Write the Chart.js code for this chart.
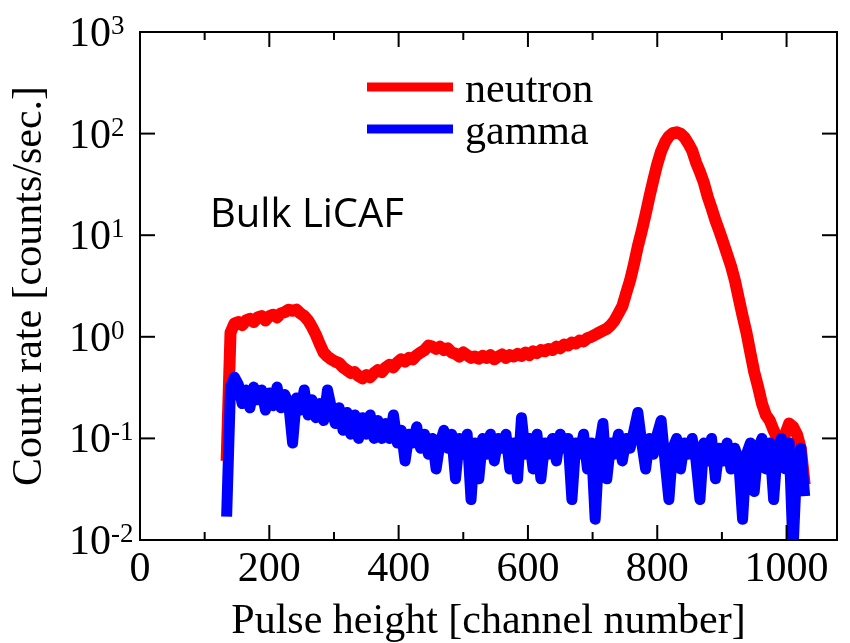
<!DOCTYPE html>
<html>
<head>
<meta charset="utf-8">
<script src="https://cdn.jsdelivr.net/npm/chart.js@4.4.1/dist/chart.umd.min.js"></script>
<style>
  html, body { margin: 0; padding: 0; background: #fff; }
  #wrap { width: 850px; height: 643px; position: relative; }
</style>
</head>
<body>
<div id="wrap"><canvas id="spectrum"></canvas></div>
<script>
// pulse height spectrum, bulk LiCAF

const channels = [
  134, 140, 146, 152, 158, 164, 170, 176, 182, 188,
  194, 200, 206, 212, 218, 224, 230, 236, 242, 248,
  254, 260, 266, 272, 278, 284, 290, 296, 302, 308,
  314, 320, 326, 332, 338, 344, 350, 356, 362, 368,
  374, 380, 386, 392, 398, 404, 410, 416, 422, 428,
  434, 440, 446, 452, 458, 464, 470, 476, 482, 488,
  494, 500, 506, 512, 518, 524, 530, 536, 542, 548,
  554, 560, 566, 572, 578, 584, 590, 596, 602, 608,
  614, 620, 626, 632, 638, 644, 650, 656, 662, 668,
  674, 680, 686, 692, 698, 704, 710, 716, 722, 728,
  734, 740, 746, 752, 758, 764, 770, 776, 782, 788,
  794, 800, 806, 812, 818, 824, 830, 836, 842, 848,
  854, 860, 866, 872, 878, 884, 890, 896, 902, 908,
  914, 920, 926, 932, 938, 944, 950, 956, 962, 968,
  974, 980, 986, 992, 998, 1004, 1010, 1016, 1022, 1028
];

const neutron = [
  0.06, 1.1, 1.35, 1.4, 1.3, 1.45, 1.5, 1.4, 1.55, 1.6,
  1.45, 1.6, 1.65, 1.55, 1.7, 1.75, 1.85, 1.8, 1.85, 1.7,
  1.6, 1.45, 1.25, 1.05, 0.85, 0.7, 0.64, 0.6, 0.57, 0.55,
  0.5, 0.47, 0.44, 0.45, 0.41, 0.39, 0.42, 0.4, 0.44, 0.47,
  0.45, 0.5, 0.53, 0.5, 0.56, 0.6, 0.57, 0.62, 0.6, 0.66,
  0.7, 0.74, 0.82, 0.8, 0.76, 0.8, 0.74, 0.77, 0.7, 0.68,
  0.64, 0.7, 0.66, 0.62, 0.64, 0.61, 0.65, 0.62, 0.66, 0.6,
  0.64, 0.67, 0.62, 0.66, 0.64, 0.68, 0.65, 0.7, 0.66, 0.72,
  0.69, 0.74, 0.72, 0.76, 0.74, 0.8, 0.77, 0.84, 0.82, 0.88,
  0.86, 0.92, 0.9, 0.97, 1.0, 1.05, 1.1, 1.15, 1.2, 1.3,
  1.45, 1.7, 2.0, 2.7, 3.6, 5.2, 7.8, 11, 16, 24,
  35, 50, 67, 82, 94, 101, 103, 100, 92, 80,
  68, 52, 42, 33, 24, 18.5, 14, 11, 8.5, 6.5,
  5, 3.6, 2.4, 1.6, 1.1, 0.7, 0.45, 0.32, 0.22, 0.17,
  0.15, 0.12, 0.1, 0.09, 0.11, 0.14, 0.13, 0.11, 0.08, 0.035
];

const gamma = [
  0.017, 0.32, 0.4, 0.34, 0.22, 0.3, 0.2, 0.32, 0.24, 0.3,
  0.19, 0.28, 0.21, 0.32, 0.2, 0.27, 0.22, 0.09, 0.25, 0.19,
  0.3, 0.17, 0.24, 0.16, 0.22, 0.15, 0.3, 0.2, 0.14, 0.2,
  0.12, 0.18, 0.11, 0.17, 0.1, 0.16, 0.11, 0.17, 0.1, 0.15,
  0.1, 0.14, 0.1, 0.17, 0.09, 0.12, 0.06, 0.11, 0.09, 0.13,
  0.08, 0.11, 0.07, 0.1, 0.05, 0.09, 0.12, 0.08, 0.11, 0.04,
  0.1, 0.07, 0.11, 0.025, 0.09, 0.04, 0.1, 0.07, 0.11, 0.06,
  0.1, 0.08, 0.11, 0.05, 0.09, 0.04, 0.16, 0.07, 0.1, 0.05,
  0.11, 0.04, 0.09, 0.07, 0.1, 0.06, 0.11, 0.08, 0.1, 0.025,
  0.09, 0.07, 0.11, 0.05, 0.09, 0.016, 0.08, 0.14, 0.04, 0.09,
  0.07, 0.11, 0.06, 0.1, 0.08, 0.12, 0.18, 0.09, 0.05, 0.1,
  0.07, 0.11, 0.15, 0.06, 0.025, 0.08, 0.1, 0.05, 0.09, 0.07,
  0.1, 0.06, 0.025, 0.09, 0.06, 0.1, 0.04, 0.08, 0.06, 0.09,
  0.05, 0.08, 0.06, 0.016, 0.07, 0.09, 0.03, 0.08, 0.1, 0.05,
  0.09, 0.025, 0.08, 0.1, 0.05, 0.09, 0.008, 0.06, 0.08, 0.027
];

const xMajorTicks = [0, 200, 400, 600, 800, 1000];
const xMinorTicks = [100, 300, 500, 700, 900];
const yTicks = [0.01, 0.1, 1, 10, 100, 1000];

const serif = '"Liberation Serif", "Times New Roman", serif';

// frame, inward ticks, y labels with exponents, legend and the sample label
const decorations = {
    id: 'decorations',
    afterDraw(chart) {
        const ctx = chart.ctx;
        const { left, right, top, bottom } = chart.chartArea;
        const x = chart.scales.x;
        const y = chart.scales.y;

        ctx.save();
        ctx.strokeStyle = '#000';
        ctx.lineWidth = 2;
        ctx.lineCap = 'butt';
        ctx.strokeRect(left, top, right - left, bottom - top);

        const seg = (x1, y1, x2, y2) => {
            ctx.beginPath();
            ctx.moveTo(x1, y1);
            ctx.lineTo(x2, y2);
            ctx.stroke();
        };
        xMajorTicks.forEach(v => {
            const px = x.getPixelForValue(v);
            seg(px, bottom, px, bottom - 15);
            seg(px, top, px, top + 15);
        });
        xMinorTicks.forEach(v => {
            const px = x.getPixelForValue(v);
            seg(px, bottom, px, bottom - 8);
            seg(px, top, px, top + 8);
        });
        yTicks.forEach(v => {
            const py = y.getPixelForValue(v);
            seg(left, py, left + 15, py);
            seg(right, py, right - 15, py);
        });

        // y labels: 10 with superscript exponent
        ctx.fillStyle = '#000';
        ctx.textAlign = 'left';
        ctx.textBaseline = 'alphabetic';
        yTicks.forEach(v => {
            const py = y.getPixelForValue(v);
            const exp = Math.round(Math.log10(v));
            const lx = left - 71;
            ctx.font = '42px ' + serif;
            ctx.fillText('10', lx, py + 14);
            const w = ctx.measureText('10').width;
            ctx.font = '27px ' + serif;
            ctx.fillText(String(exp), lx + w, py + 2);
        });

        // legend
        const legend = [
            { label: 'neutron', color: '#ff0000', dy: 55 },
            { label: 'gamma', color: '#0000ff', dy: 97 }
        ];
        legend.forEach(item => {
            ctx.strokeStyle = item.color;
            ctx.lineWidth = 9;
            seg(left + 227, top + item.dy, left + 313, top + item.dy);
            ctx.fillStyle = '#000';
            ctx.font = '42px ' + serif;
            ctx.fillText(item.label, left + 325, top + item.dy + 15);
        });

        ctx.font = '40px "Open Sans", "Liberation Sans", sans-serif';
        ctx.fillText('Bulk LiCAF', left + 70, top + 195);
        ctx.restore();
    }
};

new Chart(document.getElementById('spectrum'), {
    type: 'line',
    data: {
        labels: channels,
        datasets: [
            {
                label: 'neutron',
                data: channels.map((c, i) => ({ x: c, y: neutron[i] })),
                borderColor: '#ff0000',
                borderWidth: 12,
                borderJoinStyle: 'round',
                borderCapStyle: 'butt',
                pointRadius: 0,
                tension: 0,
                fill: false,
                order: 1,
                clip: 0
            },
            {
                label: 'gamma',
                data: channels.map((c, i) => ({ x: c, y: gamma[i] })),
                borderColor: '#0000ff',
                borderWidth: 11,
                borderJoinStyle: 'round',
                borderCapStyle: 'butt',
                pointRadius: 0,
                tension: 0,
                fill: false,
                order: 0,
                clip: 0
            }
        ]
    },
    options: {
        responsive: true,
        maintainAspectRatio: false,
        animation: false,
        layout: { padding: { left: 0, right: 13, top: 32, bottom: 0 } },
        plugins: {
            legend: { display: false },
            tooltip: { enabled: false }
        },
        scales: {
            x: {
                type: 'linear',
                min: 0,
                max: 1078,
                grid: { display: false, drawTicks: false },
                border: { display: false },
                afterBuildTicks: scale => {
                    scale.ticks = xMajorTicks.map(v => ({ value: v }));
                },
                afterFit: scale => { scale.height = 103; },
                ticks: {
                    color: '#000',
                    padding: 5,
                    maxRotation: 0,
                    font: { family: serif, size: 42, lineHeight: 1.2 },
                    callback: v => String(v)
                },
                title: {
                    display: true,
                    text: 'Pulse height [channel number]',
                    color: '#000',
                    font: { family: serif, size: 42, lineHeight: 1 },
                    padding: { top: 0, bottom: 0 }
                }
            },
            y: {
                type: 'logarithmic',
                min: 0.01,
                max: 1000,
                grid: { display: false, drawTicks: false },
                border: { display: false },
                ticks: { display: false },
                afterFit: scale => { scale.width = 140; },
                title: {
                    display: true,
                    text: 'Count rate [counts/sec.]',
                    color: '#000',
                    font: { family: serif, size: 42, lineHeight: 1 },
                    padding: { top: 9, bottom: 0 }
                }
            }
        }
    },
    plugins: [decorations]
});
</script>
</body>
</html>
